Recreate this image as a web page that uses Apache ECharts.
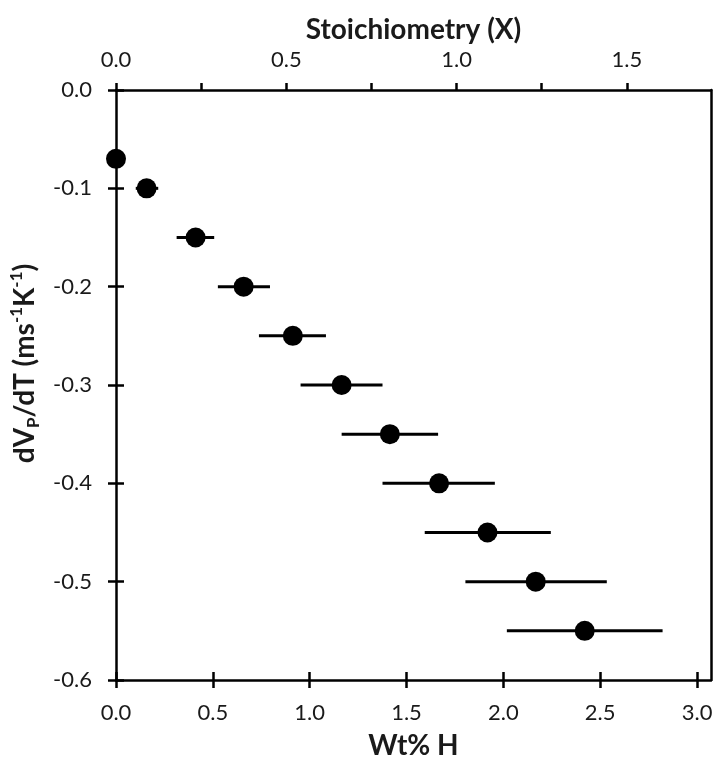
<!DOCTYPE html>
<html><head><meta charset="utf-8">
<script src="https://cdn.jsdelivr.net/npm/echarts@6/dist/echarts.min.js"></script>
<style>html,body{margin:0;padding:0;background:#fff}#c{width:714px;height:761px}</style>
</head><body><div id="c"></div>
<script>
const wtH      = [0, 0.158, 0.411, 0.659, 0.913, 1.165, 1.414, 1.668, 1.918, 2.167, 2.420];
const dVpdT    = [-0.07, -0.10, -0.15, -0.20, -0.25, -0.30, -0.35, -0.40, -0.45, -0.50, -0.55];
const errLow   = [null, 0.102, 0.313, 0.526, 0.738, 0.953, 1.165, 1.376, 1.594, 1.804, 2.018];
const errHigh  = [null, 0.218, 0.507, 0.795, 1.084, 1.376, 1.663, 1.956, 2.245, 2.534, 2.822];
const wtTicks  = [0, 0.5, 1.0, 1.5, 2.0, 2.5, 3.0];
const xTicks   = [0, 0.25, 0.5, 0.75, 1.0, 1.25, 1.5];
const xLabels  = [0, 0.5, 1.0, 1.5];
const yTicks   = [0, -0.1, -0.2, -0.3, -0.4, -0.5, -0.6];
const wtMax = 3.072, xMax = 1.747;

const FONT = 'Lato';
const TXT = '#1a1a1a';
const lblStyle = {color:TXT, fontSize:22, fontFamily:FONT};
const axLine = {show:true, onZero:false, lineStyle:{color:'#000', width:2.5}};
const tickLine = {color:'#000', width:2.5};

const chart = echarts.init(document.getElementById('c'));
const errData = wtH.map((w,i)=>[errLow[i], errHigh[i], dVpdT[i]]).filter(d=>d[0]!==null);

chart.setOption({
  animation:false,
  backgroundColor:'#fff',
  grid:[
    {left:116, right:3, top:90, bottom:81, containLabel:false, outerBoundsMode:'none'},
    {left:116, right:3, top:90, bottom:81, containLabel:false, outerBoundsMode:'none'}
  ],
  xAxis:[
    {type:'value', gridIndex:0, position:'bottom', min:0, max:wtMax,
     name:'Wt% H', nameLocation:'middle', nameGap:52,
     nameTextStyle:{fontSize:28, fontWeight:'bold', fontFamily:FONT, color:TXT},
     axisLine:axLine, splitLine:{show:false},
     axisTick:{show:true, inside:false, length:8, customValues:wtTicks, lineStyle:tickLine},
     axisLabel:Object.assign({margin:22, customValues:wtTicks, formatter:v=>v.toFixed(1)}, lblStyle)},
    {type:'value', gridIndex:0, position:'top', min:0, max:xMax,
     name:'Stoichiometry (X)', nameLocation:'middle', nameGap:46,
     nameTextStyle:{fontSize:28, fontWeight:'bold', fontFamily:FONT, color:TXT},
     axisLine:axLine, splitLine:{show:false},
     axisTick:{show:true, inside:false, length:7, customValues:xTicks, lineStyle:tickLine},
     axisLabel:Object.assign({margin:19, customValues:xLabels, formatter:v=>v.toFixed(1)}, lblStyle)},
    {type:'value', gridIndex:1, position:'bottom', min:0, max:wtMax,
     axisLine:{show:false, onZero:false}, splitLine:{show:false}, axisLabel:{show:false},
     axisTick:{show:true, inside:true, length:8, customValues:wtTicks, lineStyle:tickLine}}
  ],
  yAxis:[
    {type:'value', gridIndex:0, position:'left', min:-0.6, max:0,
     name:'{m|dV}{s|P}{m|/dT (ms}{u|-1}{m|K}{u|-1}{m|)}', nameLocation:'middle', nameGap:69, nameRotate:90,
     nameTextStyle:{fontSize:28, fontWeight:'bold', fontFamily:FONT, color:TXT, padding:[0,0,0,43],
       rich:{
         m:{fontSize:28, fontWeight:'bold', fontFamily:FONT, color:TXT, lineHeight:34},
         s:{fontSize:17, fontWeight:'bold', fontFamily:FONT, color:TXT, lineHeight:17, verticalAlign:'bottom'},
         u:{fontSize:17, fontWeight:'bold', fontFamily:FONT, color:TXT, lineHeight:17, verticalAlign:'top'}
       }},
     axisLine:axLine, splitLine:{show:false},
     axisTick:{show:true, inside:false, length:8, customValues:yTicks, lineStyle:tickLine},
     axisLabel:Object.assign({margin:24, customValues:yTicks, formatter:v=>(v===0?'0.0':v.toFixed(1))}, lblStyle)},
    {type:'value', gridIndex:0, position:'right', min:-0.6, max:0,
     axisLine:axLine, splitLine:{show:false}, axisTick:{show:false}, axisLabel:{show:false}},
    {type:'value', gridIndex:1, position:'left', min:-0.6, max:0,
     axisLine:{show:false, onZero:false}, splitLine:{show:false}, axisLabel:{show:false},
     axisTick:{show:true, inside:true, length:8, customValues:yTicks, lineStyle:tickLine}}
  ],
  series:[
    {type:'custom', xAxisIndex:0, yAxisIndex:0, data:errData, z:2,
     renderItem:(params, api)=>{
       const a = api.coord([api.value(0), api.value(2)]);
       const b = api.coord([api.value(1), api.value(2)]);
       return {type:'line', shape:{x1:a[0], y1:a[1], x2:b[0], y2:b[1]},
               style:{stroke:'#000', lineWidth:3}};
     }},
    {type:'scatter', xAxisIndex:0, yAxisIndex:0, z:3,
     data:wtH.map((w,i)=>[w, dVpdT[i]]),
     symbol:'circle', symbolSize:20, itemStyle:{color:'#000', opacity:1}}
  ]
});
</script></body></html>
